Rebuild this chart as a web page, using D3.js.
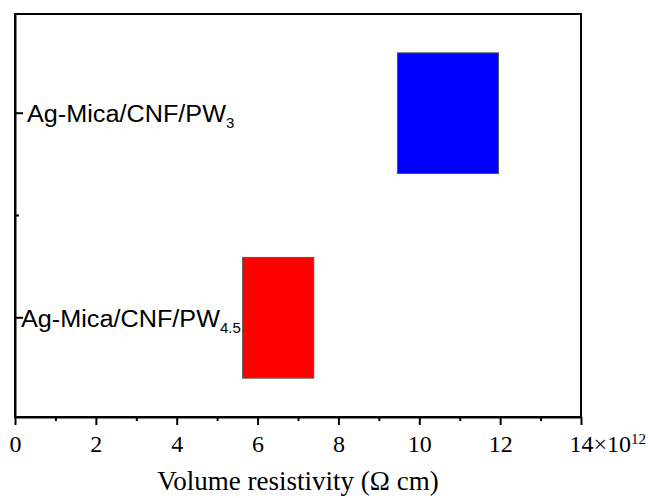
<!DOCTYPE html>
<html>
<head>
<meta charset="utf-8">
<script src="https://cdn.jsdelivr.net/npm/d3@7"></script>
<style>
  body { margin: 0; background: #fff; }
  svg { display: block; }
</style>
</head>
<body>
<div id="chart"></div>
<script>
// sample names split into base + subscript
var categories = ["PW3", "PW4.5"];
var labelBase = ["Ag-Mica/CNF/PW", "Ag-Mica/CNF/PW"];
var labelSub = ["3", "4.5"];
// range of volume resistivity, units of 10^12 ohm cm
var lowValues = [9.46, 5.63];
var highValues = [11.96, 7.39];
var barColors = ["#0000ff", "#ff0000"];
var xTicks = [0, 2, 4, 6, 8, 10, 12, 14];
var xMinorTicks = [1, 3, 5, 7, 9, 11, 13];

// label layout (style only)
var labelX = [12, 6];
var labelLen = [199, 199];

var margin = {top: 14, right: 67, bottom: 81, left: 15};
var global_width = 648, global_height = 498;
var width = global_width - margin.left - margin.right;
var height = global_height - margin.top - margin.bottom;

var svg = d3.select("#chart")
    .append("svg")
    .attr("width", global_width)
    .attr("height", global_height)
    .append("g")
    .attr("transform", "translate(" + margin.left + "," + margin.top + ")");

// x axis
const x = d3.scaleLinear()
    .domain([0, 14])
    .range([0, width]);
// y axis, categories from top
const y = d3.scaleBand()
    .domain(categories)
    .range([0, height])
    .paddingInner(0.41)
    .paddingOuter(0.19);

// bars
svg.append("g").selectAll("rect")
    .data(categories)
    .enter()
    .append("rect")
    .attr("x", function(d, i) { return x(lowValues[i]); })
    .attr("width", function(d, i) { return x(highValues[i]) - x(lowValues[i]); })
    .attr("y", function(d) { return y(d); })
    .attr("height", y.bandwidth())
    .attr("fill", function(d, i) { return barColors[i]; })
    .attr("stroke", "#555")
    .attr("stroke-width", 1);

// frame
svg.append("rect")
    .attr("width", width)
    .attr("height", height)
    .attr("fill", "none")
    .attr("stroke", "#000")
    .attr("stroke-width", 2);

// bottom axis
var xAxis = svg.append("g")
    .attr("transform", "translate(0," + height + ")")
    .call(d3.axisBottom(x).tickValues(xTicks).tickSize(8).tickPadding(10).tickSizeOuter(0));
svg.append("g")
    .attr("transform", "translate(0," + height + ")")
    .call(d3.axisBottom(x).tickValues(xMinorTicks).tickSize(4).tickFormat("").tickSizeOuter(0))
    .select(".domain").remove();
xAxis.selectAll("text")
    .attr("font-family", "'Liberation Serif', 'Times New Roman', serif")
    .attr("font-size", 24)
    .attr("fill", "#000");

// exponent after the last tick label
var lastTick = xAxis.selectAll(".tick").filter(function(d) { return d === 14; });
var lastW = lastTick.select("text").node().getComputedTextLength();
var expo = lastTick.append("text")
    .attr("x", lastW / 2)
    .attr("y", 18)
    .attr("dy", "0.71em")
    .attr("text-anchor", "start")
    .attr("fill", "#000")
    .attr("font-family", "'Liberation Serif', 'Times New Roman', serif")
    .attr("font-size", 24);
expo.append("tspan").text("\u00d710");
expo.append("tspan").attr("font-size", 15).attr("dy", -8).text("12");

// left axis, ticks point inward
var yAxis = svg.append("g")
    .call(d3.axisLeft(y).tickSizeInner(-8).tickSizeOuter(0).tickFormat(""));
// minor tick between categories
svg.append("line")
    .attr("x1", 0)
    .attr("x2", 4)
    .attr("y1", (y(categories[0]) + y(categories[1]) + y.bandwidth()) / 2)
    .attr("y2", (y(categories[0]) + y(categories[1]) + y.bandwidth()) / 2)
    .attr("stroke", "#000")
    .attr("stroke-width", 2);

svg.selectAll(".domain").attr("stroke-width", 2);
svg.selectAll(".tick line").attr("stroke-width", 2);

// category labels with subscripts
var labels = svg.append("g").selectAll("text")
    .data(categories)
    .enter()
    .append("text")
    .attr("x", function(d, i) { return labelX[i]; })
    .attr("y", function(d) { return y(d) + y.bandwidth() / 2 + 9; })
    .attr("font-family", "'Liberation Sans', Arial, sans-serif")
    .attr("font-size", 23)
    .attr("fill", "#000");
labels.append("tspan")
    .attr("textLength", function(d, i) { return labelLen[i]; })
    .attr("lengthAdjust", "spacingAndGlyphs")
    .text(function(d, i) { return labelBase[i]; });
labels.append("tspan")
    .attr("font-size", 15)
    .attr("dy", 6)
    .text(function(d, i) { return labelSub[i]; });

// x axis title
svg.append("text")
    .attr("text-anchor", "middle")
    .attr("x", width / 2)
    .attr("y", height + 73)
    .attr("font-family", "'Liberation Serif', 'Times New Roman', serif")
    .attr("font-size", 27)
    .attr("fill", "#000")
    .text("Volume resistivity (\u03a9 cm)");
</script>
</body>
</html>
